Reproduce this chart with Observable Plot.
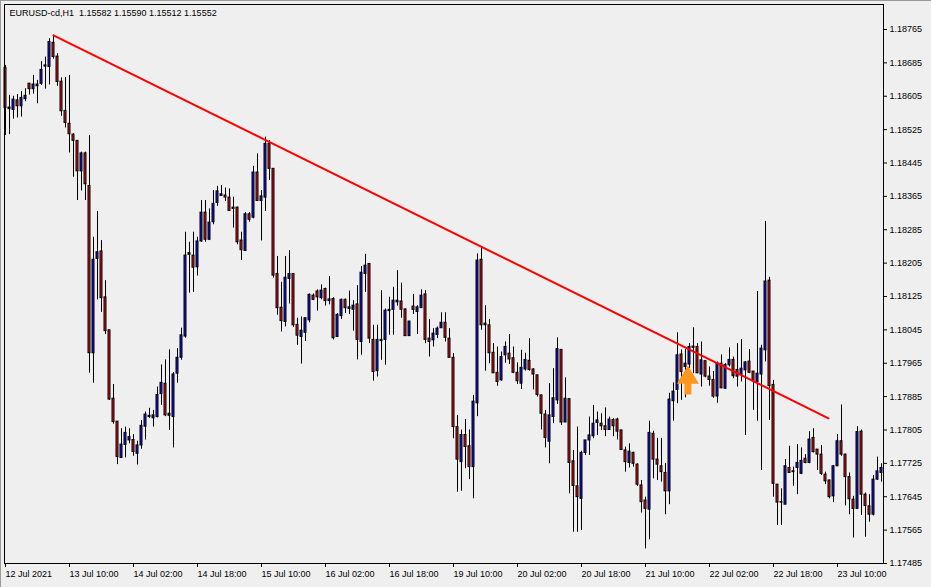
<!DOCTYPE html>
<html><head><meta charset="utf-8">
<script src="https://cdn.jsdelivr.net/npm/d3@7"></script>
<script src="https://cdn.jsdelivr.net/npm/@observablehq/plot@0.6"></script>
<style>
html,body{margin:0;padding:0;background:#efefef;}
#wrap{position:relative;width:931px;height:587px;overflow:hidden;}
#edge{position:absolute;left:0;top:0;right:0;bottom:0;border-top:1px solid #9a9a9a;border-left:1px solid #9a9a9a;box-sizing:border-box;pointer-events:none;}
</style></head><body><div id="wrap"><div id="edge"></div></div>
<script>
const headerText = "EURUSD-cd,H1  1.15582 1.15590 1.15512 1.15552";

const opens = [1.18673,1.18574,1.18572,1.18595,1.18581,1.18598,1.18635,1.18622,1.18629,1.18635,
1.18676,1.18675,1.18733,1.18700,1.18640,1.18570,1.18539,1.18513,1.18498,1.18425,
1.18468,1.18390,1.17989,1.18215,1.18233,1.18123,1.18044,1.17880,1.17825,1.17738,
1.17769,1.17780,1.17781,1.17748,1.17768,1.17813,1.17836,1.17833,1.17836,1.17891,
1.17916,1.17839,1.17836,1.17940,1.17978,1.18029,1.18225,1.18223,1.18195,1.18257,
1.18326,1.18261,1.18303,1.18349,1.18366,1.18367,1.18362,1.18338,1.18338,1.18259,
1.18234,1.18322,1.18314,1.18422,1.18354,1.18362,1.18491,1.18431,1.18179,1.18098,
1.18064,1.18167,1.18179,1.18057,1.18028,1.18038,1.18068,1.18127,1.18137,1.18121,
1.18143,1.18114,1.18119,1.18028,1.18078,1.18117,1.18095,1.18093,1.18106,1.18016,
1.18179,1.18203,1.18021,1.17946,1.18018,1.18021,1.18090,1.18093,1.18111,1.18113,
1.18094,1.18030,1.18101,1.18088,1.18097,1.18130,1.18024,1.18020,1.18033,1.18049,
1.18062,1.18024,1.17978,1.17812,1.17728,1.17793,1.17766,1.17716,1.17869,1.18213,
1.18060,1.18056,1.17990,1.17942,1.17924,1.17984,1.17988,1.17977,1.17942,1.17916,
1.17950,1.17971,1.17950,1.17936,1.17888,1.17842,1.17777,1.17836,1.17876,1.17997,
1.17823,1.17879,1.17730,1.17670,1.17640,1.17750,1.17780,1.17790,1.17822,1.17820,
1.17814,1.17805,1.17829,1.17830,1.17804,1.17756,1.17726,1.17750,1.17722,1.17672,
1.17636,1.17614,1.17796,1.17734,1.17718,1.17702,1.17658,1.17874,1.17901,1.17986,
1.17956,1.17962,1.18005,1.18004,1.17938,1.17970,1.17933,1.17925,1.17885,1.17964,
1.17904,1.17960,1.17973,1.17949,1.17937,1.17948,1.17969,1.17945,1.17920,1.17938,
1.17996,1.18163,1.17913,1.17674,1.17632,1.17626,1.17714,1.17704,1.17714,1.17700,
1.17736,1.17726,1.17786,1.17758,1.17746,1.17698,1.17684,1.17646,1.17718,1.17778,
1.17746,1.17692,1.17638,1.17616,1.17801,1.17650,1.17622,1.17602,1.17686,1.17702];

const highs = [1.18679,1.18607,1.18605,1.18609,1.18616,1.18623,1.18636,1.18655,1.18643,1.18688,
1.18699,1.18743,1.18751,1.18707,1.18649,1.18650,1.18655,1.18515,1.18499,1.18471,
1.18471,1.18511,1.18267,1.18329,1.18259,1.18163,1.18044,1.17914,1.17825,1.17808,
1.17812,1.17808,1.17794,1.17778,1.17828,1.17848,1.17857,1.17852,1.17908,1.17961,
1.17973,1.17997,1.17943,1.18000,1.18049,1.18279,1.18255,1.18279,1.18267,1.18355,
1.18355,1.18335,1.18379,1.18389,1.18391,1.18385,1.18383,1.18363,1.18339,1.18279,
1.18326,1.18326,1.18437,1.18467,1.18379,1.18507,1.18499,1.18431,1.18221,1.18159,
1.18221,1.18235,1.18179,1.18073,1.18076,1.18073,1.18131,1.18131,1.18141,1.18153,
1.18145,1.18173,1.18122,1.18084,1.18119,1.18119,1.18138,1.18115,1.18151,1.18197,
1.18226,1.18203,1.18056,1.18056,1.18139,1.18095,1.18123,1.18147,1.18187,1.18157,
1.18095,1.18065,1.18130,1.18103,1.18141,1.18139,1.18070,1.18048,1.18052,1.18086,
1.18086,1.18048,1.17988,1.17840,1.17805,1.17830,1.17805,1.17888,1.18227,1.18242,
1.18103,1.18070,1.18012,1.18004,1.17992,1.18016,1.18034,1.18004,1.17966,1.17996,
1.17989,1.18024,1.17952,1.17936,1.17888,1.17852,1.17916,1.17952,1.18026,1.17997,
1.17930,1.17879,1.17756,1.17812,1.17754,1.17780,1.17836,1.17864,1.17848,1.17844,
1.17858,1.17836,1.17832,1.17833,1.17804,1.17764,1.17772,1.17752,1.17724,1.17684,
1.17644,1.17826,1.17802,1.17785,1.17785,1.17725,1.17893,1.17918,1.18038,1.17997,
1.17999,1.18012,1.18050,1.18012,1.18016,1.17970,1.17956,1.17945,1.17968,1.17985,
1.17964,1.18002,1.17980,1.18012,1.18022,1.17969,1.17998,1.17945,1.18137,1.18008,
1.18305,1.18171,1.17924,1.17674,1.17664,1.17734,1.17766,1.17716,1.17770,1.17762,
1.17746,1.17801,1.17808,1.17758,1.17768,1.17704,1.17685,1.17720,1.17794,1.17865,
1.17747,1.17702,1.17646,1.17813,1.17805,1.17654,1.17650,1.17696,1.17740,1.17724];

const lows = [1.18511,1.18513,1.18550,1.18553,1.18555,1.18592,1.18608,1.18610,1.18587,1.18631,
1.18622,1.18632,1.18694,1.18629,1.18557,1.18529,1.18469,1.18411,1.18355,1.18378,
1.18355,1.17941,1.17917,1.18117,1.18087,1.18034,1.17876,1.17819,1.17722,1.17737,
1.17738,1.17772,1.17742,1.17721,1.17759,1.17781,1.17833,1.17812,1.17834,1.17864,
1.17837,1.17804,1.17762,1.17917,1.17972,1.18025,1.18133,1.18135,1.18174,1.18255,
1.18255,1.18259,1.18297,1.18341,1.18366,1.18353,1.18330,1.18289,1.18249,1.18211,
1.18234,1.18303,1.18311,1.18354,1.18258,1.18329,1.18403,1.18169,1.18080,1.18040,
1.18052,1.18107,1.18051,1.18008,1.17963,1.18017,1.18062,1.18115,1.18090,1.18117,
1.18102,1.18105,1.18021,1.18028,1.18070,1.18084,1.18082,1.18042,1.17973,1.17984,
1.18135,1.18012,1.17922,1.17932,1.17972,1.17960,1.18032,1.18032,1.18102,1.18073,
1.18030,1.18030,1.18082,1.18034,1.18097,1.18012,1.17980,1.18004,1.18024,1.18048,
1.18016,1.17978,1.17784,1.17656,1.17658,1.17712,1.17686,1.17640,1.17837,1.18044,
1.17946,1.17964,1.17940,1.17910,1.17922,1.17965,1.17962,1.17940,1.17914,1.17902,
1.17946,1.17946,1.17901,1.17884,1.17805,1.17762,1.17724,1.17820,1.17866,1.17816,
1.17823,1.17652,1.17560,1.17560,1.17564,1.17744,1.17744,1.17784,1.17792,1.17804,
1.17789,1.17804,1.17789,1.17781,1.17756,1.17704,1.17714,1.17716,1.17670,1.17606,
1.17520,1.17542,1.17688,1.17684,1.17680,1.17602,1.17626,1.17826,1.17868,1.17876,
1.17882,1.17952,1.17940,1.17940,1.17908,1.17930,1.17910,1.17881,1.17869,1.17904,
1.17902,1.17956,1.17928,1.17908,1.17920,1.17792,1.17940,1.17852,1.17826,1.17708,
1.17968,1.17828,1.17644,1.17576,1.17576,1.17626,1.17702,1.17670,1.17650,1.17698,
1.17724,1.17724,1.17750,1.17708,1.17696,1.17674,1.17640,1.17631,1.17718,1.17742,
1.17623,1.17602,1.17546,1.17616,1.17600,1.17548,1.17584,1.17599,1.17684,1.17680];

const closes = [1.18577,1.18578,1.18597,1.18581,1.18601,1.18606,1.18622,1.18633,1.18633,1.18668,
1.18679,1.18735,1.18699,1.18639,1.18569,1.18541,1.18514,1.18498,1.18425,1.18468,
1.18394,1.17989,1.18213,1.18231,1.18121,1.18042,1.17878,1.17824,1.17740,1.17770,
1.17798,1.17788,1.17752,1.17768,1.17815,1.17842,1.17839,1.17840,1.17889,1.17918,
1.17840,1.17844,1.17938,1.17978,1.18032,1.18223,1.18229,1.18194,1.18257,1.18326,
1.18261,1.18302,1.18347,1.18377,1.18370,1.18362,1.18330,1.18335,1.18255,1.18236,
1.18322,1.18309,1.18422,1.18354,1.18365,1.18491,1.18431,1.18175,1.18097,1.18066,
1.18170,1.18179,1.18056,1.18031,1.18043,1.18073,1.18129,1.18117,1.18123,1.18139,
1.18114,1.18118,1.18025,1.18081,1.18117,1.18097,1.18099,1.18103,1.18021,1.18182,
1.18199,1.18024,1.17944,1.18021,1.18021,1.18091,1.18093,1.18115,1.18115,1.18093,
1.18030,1.18065,1.18093,1.18099,1.18127,1.18021,1.18016,1.18036,1.18048,1.18062,
1.18026,1.17978,1.17812,1.17734,1.17793,1.17764,1.17716,1.17873,1.18211,1.18056,
1.18056,1.17989,1.17941,1.17920,1.17980,1.18004,1.17974,1.17942,1.17922,1.17954,
1.17973,1.17949,1.17938,1.17889,1.17844,1.17786,1.17840,1.17881,1.17999,1.17823,
1.17880,1.17726,1.17671,1.17644,1.17750,1.17780,1.17792,1.17820,1.17828,1.17814,
1.17805,1.17830,1.17814,1.17801,1.17757,1.17728,1.17753,1.17724,1.17674,1.17632,
1.17616,1.17798,1.17734,1.17722,1.17704,1.17658,1.17878,1.17897,1.17984,1.17944,
1.17964,1.18004,1.18002,1.17941,1.17972,1.17933,1.17925,1.17885,1.17965,1.17905,
1.17961,1.17973,1.17934,1.17933,1.17952,1.17967,1.17942,1.17922,1.17940,1.18000,
1.18161,1.17910,1.17676,1.17631,1.17631,1.17718,1.17702,1.17706,1.17726,1.17731,
1.17726,1.17782,1.17752,1.17746,1.17700,1.17682,1.17644,1.17718,1.17778,1.17746,
1.17692,1.17639,1.17616,1.17800,1.17650,1.17623,1.17602,1.17686,1.17706,1.17714];

const timeTickBars = [0,16,32,48,64,80,96,112,128,144,160,176,192,208];
const timeTickLabels = ["12 Jul 2021","13 Jul 10:00","14 Jul 02:00","14 Jul 18:00","15 Jul 10:00",
"16 Jul 02:00","16 Jul 18:00","19 Jul 10:00","20 Jul 02:00","20 Jul 18:00","21 Jul 10:00",
"22 Jul 02:00","22 Jul 18:00","23 Jul 10:00"];
const priceTicks = [1.17485,1.17565,1.17645,1.17725,1.17805,1.17885,1.17965,1.18045,1.18125,
1.18205,1.18285,1.18365,1.18445,1.18525,1.18605,1.18685,1.18765];

const trendLine = [{bar: 12, price: 1.18751}, {bar: 205.75, price: 1.17833}];
const arrowSignal = [{bar: 170.6, price: 1.17925}];

const bullColor = "#1515e0";
const bearColor = "#e01515";

const candles = opens.map((o, i) => ({bar: i, open: o, high: highs[i], low: lows[i], close: closes[i]}));

const arrowUp = {
  draw(ctx, size) {
    const r = Math.sqrt(size / Math.PI);
    ctx.moveTo(0, -r);
    ctx.lineTo(0.76 * r, 0.26 * r);
    ctx.lineTo(0.24 * r, 0.26 * r);
    ctx.lineTo(0.24 * r, r);
    ctx.lineTo(-0.24 * r, r);
    ctx.lineTo(-0.24 * r, 0.26 * r);
    ctx.lineTo(-0.76 * r, 0.26 * r);
    ctx.closePath();
  }
};

const chart = Plot.plot({
  width: 931, height: 587,
  marginLeft: 4, marginRight: 48, marginTop: 4, marginBottom: 24,
  style: {background: "#efefef", fontFamily: "'Liberation Sans', Arial, sans-serif", fontSize: "9px", color: "#000"},
  x: {type: "linear", domain: [-0.25, 219.5], axis: null, label: null},
  y: {type: "linear", domain: [1.17485, 1.188249], axis: null, label: null},
  marks: [
    Plot.ruleX(candles, {x: "bar", y1: "low", y2: "high", stroke: "#000", strokeWidth: 1}),
    Plot.rect(candles, {x1: d => d.bar - 0.25, x2: d => d.bar + 0.25, y1: "open", y2: "close",
      fill: d => d.close >= d.open ? bullColor : bearColor, stroke: "#000", strokeWidth: 1}),
    Plot.line(trendLine, {x: "bar", y: "price", stroke: "#ff0000", strokeWidth: 2}),
    Plot.dot(arrowSignal, {x: "bar", y: "price", r: 14.5, symbol: arrowUp, fill: "#ff961e", stroke: "none"}),
    Plot.frame({stroke: "#000"}),
    Plot.axisY(priceTicks, {anchor: "right", label: null, tickSize: 3, tickPadding: 3, tickFormat: d => d.toFixed(5)}),
    Plot.axisX(timeTickBars, {anchor: "bottom", label: null, tickSize: 4, tickPadding: 3,
      tickFormat: d => timeTickLabels[timeTickBars.indexOf(d)], textAnchor: "start", dx: 0}),
    Plot.text([headerText], {frameAnchor: "top-left", dx: 5, dy: 5, fill: "#000"})
  ]
});
document.getElementById("wrap").insertBefore(chart, document.getElementById("edge"));
</script>
</body></html>
